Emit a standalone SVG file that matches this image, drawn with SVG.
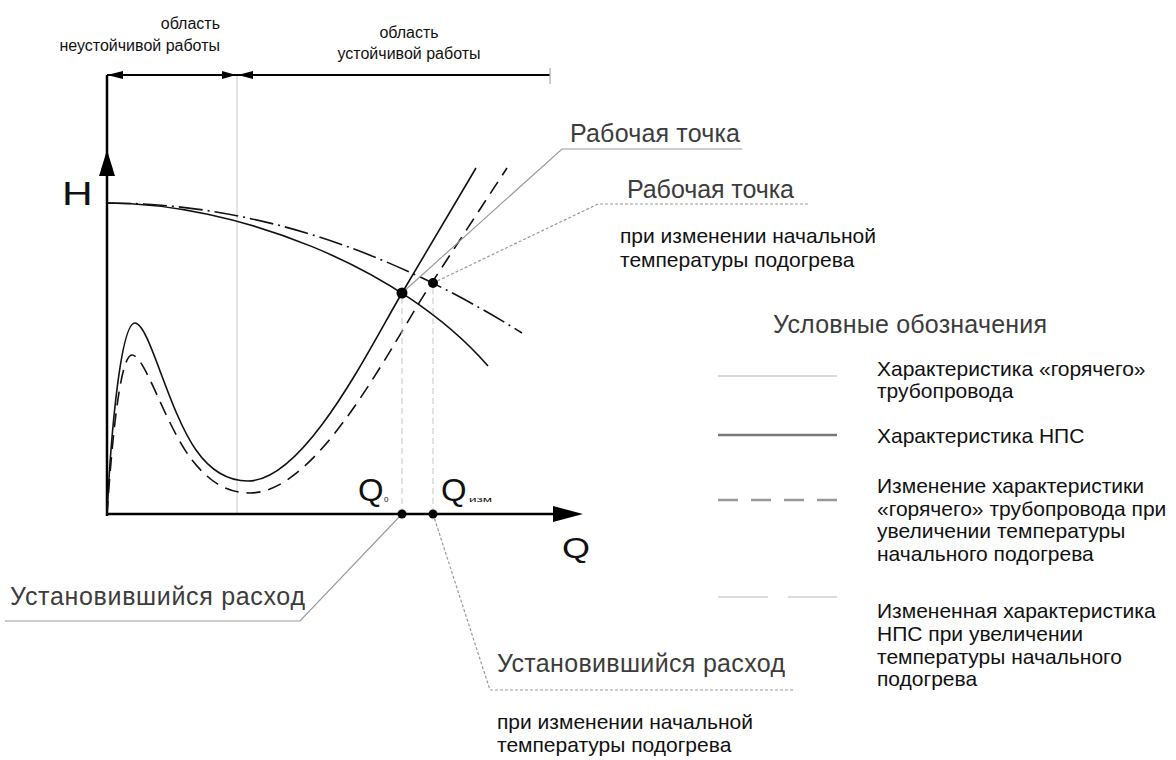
<svg xmlns="http://www.w3.org/2000/svg" width="1176" height="760" viewBox="0 0 1176 760">
  <defs>
    <style>
      .t{font-family:"Liberation Sans",Arial,sans-serif;fill:#111}
      .lbl{font-family:"Liberation Sans",Arial,sans-serif;fill:#3c3c3c;font-size:25px}
      .sm{font-size:16px}
      .lg{font-size:21px}
      .curve{fill:none;stroke:#111;stroke-width:1.6}
      .dash{stroke-dasharray:14 8}
      .dashdot{stroke-dasharray:24 5 2 5}
      .axis{stroke:#000;stroke-width:2.5;fill:none}
      .lead{stroke:#9a9a9a;stroke-width:1.2;fill:none}
      .dotlead{stroke:#9a9a9a;stroke-width:1.2;fill:none;stroke-dasharray:3 2}
      .drop{stroke:#c4c4c4;stroke-width:1;stroke-dasharray:6 4}
      .pt{fill:#000}
    </style>
  </defs>
  <rect width="1176" height="760" fill="#fff"/>

  <!-- region dimension line above the plot -->
  <g id="regions">
    <line x1="237" y1="75" x2="237" y2="515" stroke="#c8c8c8" stroke-width="1"/>
    <line x1="107" y1="75" x2="550" y2="75" stroke="#000" stroke-width="2"/>
    <line x1="550" y1="68" x2="550" y2="84" stroke="#aaa" stroke-width="1.2"/>
    <polygon points="107,75 123,71 123,79"/>
    <polygon points="236,75 222,71 222,79"/>
    <polygon points="238,75 253,71 253,79"/>
    <text class="t sm" x="220" y="29" text-anchor="end">область</text>
    <text class="t sm" x="220" y="51" text-anchor="end">неустойчивой работы</text>
    <text class="t sm" x="409" y="38" text-anchor="middle">область</text>
    <text class="t sm" x="409" y="59" text-anchor="middle">устойчивой работы</text>
  </g>

  <!-- coordinate axes -->
  <g id="axes">
    <line x1="107" y1="75" x2="107" y2="516" class="axis"/>
    <line x1="106" y1="514" x2="556" y2="514" class="axis"/>
    <polygon points="107,150 99,176 115,176"/>
    <polygon points="583,514 553,506 553,522"/>
    <text class="t" font-size="34" transform="translate(62,205) scale(1.25,1)">H</text>
    <text class="t" font-size="30" transform="translate(562,558) scale(1.2,1)">Q</text>
  </g>

  <!-- characteristics -->
  <g id="curves">
    <path id="nps" class="curve" d="M107,203 C234,203 400,265 488,366"/>
    <path id="nps-changed" class="curve dashdot" d="M107,203 Q314.5,203 522,333"/>
    <path id="pipe" class="curve" d="M107,515 C111,430 121,323 135,323 C149,323 168,410 196,450 C210,470 228,481 248,481 C305,481 370,347 402,293 L476,168"/>
    <path id="pipe-changed" class="curve dash" d="M107,515 C112,440 120,355 132,355 C145,355 165,425 192,460 C208,480 225,493 250,493 C320,493 395,337 433,281 L507,168"/>
  </g>

  <!-- connectors: drop lines and label leaders -->
  <g id="connectors">
    <line class="drop" x1="402" y1="298" x2="402" y2="510"/>
    <line class="drop" x1="433" y1="288" x2="433" y2="510"/>
    <polyline class="lead" points="402,293 562,149 742,149"/>
    <polyline class="dotlead" points="433,283 598,204 808,204"/>
    <polyline class="lead" points="402,514 300,621 5,621"/>
    <polyline class="dotlead" points="433,514 490,690 795,690"/>
  </g>

  <g id="point-work">
    <circle class="pt" cx="402" cy="293" r="5.5"/>
    <text class="lbl" x="570" y="142" textLength="170">Рабочая точка</text>
  </g>
  <g id="point-work-changed">
    <circle class="pt" cx="433" cy="283" r="5"/>
    <text class="lbl" x="627" y="198" textLength="167">Рабочая точка</text>
    <text class="t lg" x="620" y="243">при изменении начальной</text>
    <text class="t lg" x="620" y="267">температуры подогрева</text>
  </g>
  <g id="flow">
    <circle class="pt" cx="402" cy="514" r="4.5"/>
    <text class="t" font-size="31" transform="translate(358,501) scale(1.06,1)">Q</text>
    <text class="t" font-size="8" x="384" y="502">0</text>
    <text class="lbl" x="10" y="605" textLength="295">Установившийся расход</text>
  </g>
  <g id="flow-changed">
    <circle class="pt" cx="433" cy="514" r="4.5"/>
    <text class="t" font-size="31" transform="translate(441,501) scale(1.06,1)">Q</text>
    <text class="t" font-size="8" x="469" y="502" textLength="23" lengthAdjust="spacingAndGlyphs">изм</text>
    <text class="lbl" x="497" y="672" textLength="288">Установившийся расход</text>
    <text class="t lg" x="497" y="729">при изменении начальной</text>
    <text class="t lg" x="497" y="752">температуры подогрева</text>
  </g>

  <!-- legend -->
  <g id="legend">
    <text class="lbl" x="773" y="333" textLength="274">Условные обозначения</text>
    <line x1="718" y1="376" x2="837" y2="376" stroke="#cfcfcf" stroke-width="1.5"/>
    <text class="t lg" x="877" y="376">Характеристика «горячего»</text>
    <text class="t lg" x="877" y="398">трубопровода</text>
    <line x1="718" y1="435" x2="837" y2="435" stroke="#777" stroke-width="2.5"/>
    <text class="t lg" x="877" y="443">Характеристика НПС</text>
    <line x1="718" y1="500" x2="837" y2="500" stroke="#999" stroke-width="2.5" stroke-dasharray="20 13"/>
    <text class="t lg" x="877" y="493">Изменение характеристики</text>
    <text class="t lg" x="877" y="516">«горячего» трубопровода при</text>
    <text class="t lg" x="877" y="538">увеличении температуры</text>
    <text class="t lg" x="877" y="561">начального подогрева</text>
    <line x1="718" y1="597" x2="768" y2="597" stroke="#cfcfcf" stroke-width="1.5"/>
    <line x1="788" y1="597" x2="837" y2="597" stroke="#cfcfcf" stroke-width="1.5"/>
    <text class="t lg" x="877" y="618">Измененная характеристика</text>
    <text class="t lg" x="877" y="641">НПС при увеличении</text>
    <text class="t lg" x="877" y="664">температуры начального</text>
    <text class="t lg" x="877" y="686">подогрева</text>
  </g>
</svg>
